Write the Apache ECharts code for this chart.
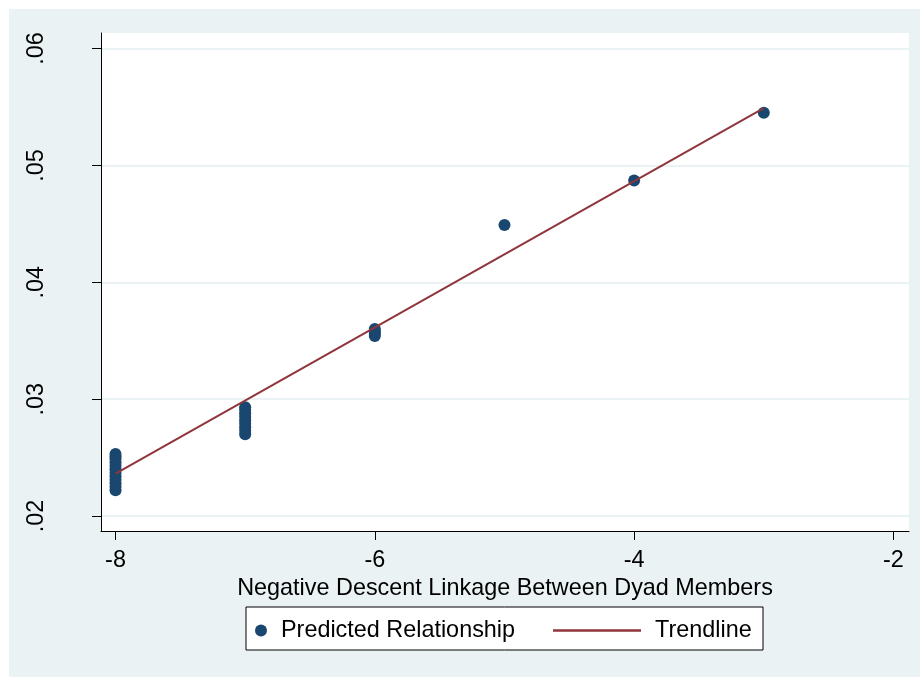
<!DOCTYPE html>
<html>
<head>
<meta charset="utf-8">
<script src="https://cdn.jsdelivr.net/npm/echarts@6/dist/echarts.min.js"></script>
<style>
  html, body { margin: 0; padding: 0; background: #ffffff; }
  #chart { position: absolute; left: 9px; top: 9px; width: 911px; height: 668px; }
</style>
</head>
<body>
<div id="chart"></div>
<script>
// ---- Data ----
const xTicks = [-8, -6, -4, -2];
const yTicks = [0.02, 0.03, 0.04, 0.05, 0.06];

// Predicted relationship: x value and predicted y values at that x
const clusterX = [-8, -7, -6, -5, -4, -3];
const clusterM8 = [0.0222, 0.0225, 0.0228, 0.0231, 0.0234, 0.0237, 0.0240, 0.0243, 0.0246, 0.0249, 0.0251, 0.0253];
const clusterM7 = [0.0270, 0.0273, 0.0276, 0.0279, 0.0282, 0.0285, 0.0288, 0.0291, 0.0293];
const clusterM6 = [0.0354, 0.0356, 0.0358, 0.0360];
const clusterM5 = [0.0449];
const clusterM4 = [0.0487];
const clusterM3 = [0.0545];

// Trendline endpoints
const trendX = [-8, -3];
const trendY = [0.02363, 0.05491];

// ---- Build chart ----
const clusters = [clusterM8, clusterM7, clusterM6, clusterM5, clusterM4, clusterM3];
const scatterData = [];
clusterX.forEach((x, i) => clusters[i].forEach(y => scatterData.push([x, y])));
const lineData = trendX.map((x, i) => [x, trendY[i]]);

const FONT = 'Liberation Sans, Arial, sans-serif';
const FS = 23.4;
const chart = echarts.init(document.getElementById('chart'), null, { renderer: 'canvas' });
chart.setOption({
  backgroundColor: '#EAF2F3',
  animation: false,
  textStyle: { fontFamily: FONT, color: '#000' },
  grid: {
    left: 92, top: 24, width: 808, height: 498,
    show: true, backgroundColor: '#ffffff', borderWidth: 0
  },
  xAxis: {
    type: 'value',
    min: -8.112, max: -1.880,
    name: 'Negative Descent Linkage Between Dyad Members',
    nameLocation: 'middle',
    nameGap: 32,
    nameTextStyle: { fontSize: FS, color: '#000', fontFamily: FONT },
    axisLine: { show: true, onZero: false, lineStyle: { color: '#000', width: 1 } },
    axisTick: { show: true, length: 9, customValues: xTicks, lineStyle: { color: '#000' } },
    axisLabel: { show: true, customValues: xTicks, fontSize: FS, color: '#000', margin: 18,
                 fontFamily: FONT, formatter: v => String(v) },
    splitLine: { show: false }
  },
  yAxis: {
    type: 'value',
    min: 0.01872, max: 0.06133,
    axisLine: { show: true, onZero: false, lineStyle: { color: '#000', width: 1 } },
    axisTick: { show: true, length: 9, customValues: yTicks, lineStyle: { color: '#000' } },
    axisLabel: { show: true, customValues: yTicks, fontSize: FS, color: '#000', margin: 53,
                 rotate: 90, fontFamily: FONT,
                 formatter: v => v.toFixed(2).replace(/^0\./, '.') },
    splitLine: { show: true, lineStyle: { color: '#EAF2F3', width: 2 } }
  },
  graphic: [{
    type: 'rect',
    shape: { x: 237, y: 598, width: 517, height: 43 },
    style: { fill: '#ffffff', stroke: '#000', lineWidth: 1 },
    z: -1
  }],
  legend: [{
    data: [{ name: 'Predicted Relationship', icon: 'circle' }],
    left: 246, top: 610, padding: 0,
    itemWidth: 12, itemHeight: 12,
    textStyle: { fontSize: FS, color: '#000', fontFamily: FONT, padding: [0, 0, 0, 9] }
  }, {
    data: [{ name: 'Trendline', icon: 'rect' }],
    left: 544, top: 610, padding: 0,
    itemWidth: 88, itemHeight: 2.5,
    textStyle: { fontSize: FS, color: '#000', fontFamily: FONT, padding: [0, 0, 0, 9] }
  }],
  series: [{
    name: 'Predicted Relationship',
    type: 'scatter',
    data: scatterData,
    symbol: 'circle',
    symbolSize: 12,
    itemStyle: { color: '#1A476F', opacity: 1 },
    z: 2
  }, {
    name: 'Trendline',
    type: 'line',
    data: lineData,
    symbol: 'none',
    showSymbol: false,
    lineStyle: { color: '#90353B', width: 2 },
    itemStyle: { color: '#90353B' },
    z: 3
  }]
});
</script>
</body>
</html>
